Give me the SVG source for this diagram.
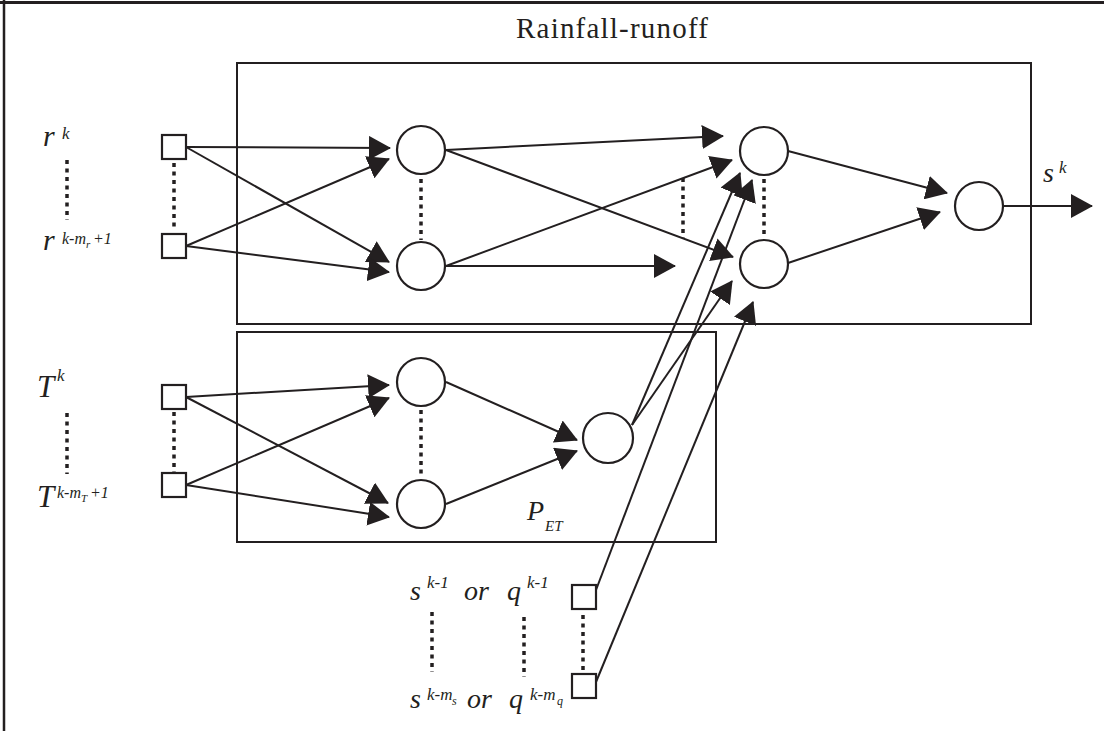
<svg xmlns="http://www.w3.org/2000/svg" width="1104" height="731" viewBox="0 0 1104 731">
<style>
.box{fill:none;stroke:#231f20;stroke-width:2}
.nd{fill:#fff;stroke:#231f20;stroke-width:2.2}
.ln{stroke:#231f20;stroke-width:2;fill:none;marker-end:url(#ah)}
.dot{stroke:#231f20;stroke-width:3.5;stroke-dasharray:4 4.5;fill:none}
.t{font-family:"Liberation Serif","Times New Roman",serif;fill:#231f20}
.m{font-family:"Liberation Serif","Times New Roman",serif;font-style:italic;fill:#231f20}
</style>
<defs>
<marker id="ah" markerUnits="userSpaceOnUse" viewBox="0 0 22 24" markerWidth="22" markerHeight="24" refX="21" refY="12" orient="auto">
<path d="M0,0 L22,12 L0,24 Z" fill="#231f20"/>
</marker>
</defs>
<rect width="1104" height="731" fill="#fff"/>
<g id="frame">
<line x1="0" y1="2.5" x2="1104" y2="2.5" stroke="#231f20" stroke-width="3"/>
<line x1="4" y1="0" x2="4" y2="731" stroke="#231f20" stroke-width="2.5"/>
</g>
<g id="rainfall-runoff-box">
<rect class="box" x="237" y="63" width="794" height="261"/>
<text class="t" x="612" y="38" font-size="29" text-anchor="middle" textLength="192">Rainfall-runoff</text>
</g>
<g id="pet-box">
<rect class="box" x="237" y="332" width="479" height="210"/>
<text class="m" x="527" y="520" font-size="28">P<tspan x="545" y="531" font-size="15">ET</tspan></text>
</g>
<g id="connectors">
<line class="ln" x1="186" y1="147" x2="390" y2="148"/>
<line class="ln" x1="186" y1="147" x2="389" y2="262"/>
<line class="ln" x1="186" y1="246" x2="389" y2="159"/>
<line class="ln" x1="186" y1="246" x2="389" y2="272"/>
<line class="ln" x1="186" y1="397" x2="389" y2="385"/>
<line class="ln" x1="186" y1="397" x2="388" y2="503"/>
<line class="ln" x1="186" y1="485" x2="389" y2="398"/>
<line class="ln" x1="186" y1="485" x2="389" y2="517"/>
<line class="ln" x1="446" y1="382" x2="577" y2="440"/>
<line class="ln" x1="446" y1="504" x2="577" y2="451"/>
<line class="ln" x1="446" y1="150" x2="723" y2="136"/>
<line class="ln" x1="446" y1="150" x2="733" y2="257"/>
<line class="ln" x1="446" y1="266" x2="732" y2="160"/>
<line class="ln" x1="446" y1="266" x2="675" y2="266"/>
<line class="ln" x1="632" y1="425" x2="740" y2="173"/>
<line class="ln" x1="632" y1="425" x2="732" y2="281"/>
<line class="ln" x1="596" y1="590" x2="752" y2="180"/>
<line class="ln" x1="596" y1="682" x2="753" y2="302"/>
<line class="ln" x1="788" y1="151" x2="947" y2="193"/>
<line class="ln" x1="788" y1="263" x2="940" y2="212"/>
<line class="ln" x1="1003" y1="206" x2="1092" y2="206"/>
</g>
<g id="dots">
<line class="dot" x1="67" y1="160" x2="67" y2="220"/>
<line class="dot" x1="174" y1="163" x2="174" y2="230"/>
<line class="dot" x1="421" y1="179" x2="421" y2="240"/>
<line class="dot" x1="683" y1="178" x2="683" y2="238"/>
<line class="dot" x1="764" y1="179" x2="764" y2="238"/>
<line class="dot" x1="67" y1="413" x2="67" y2="474"/>
<line class="dot" x1="174" y1="412" x2="174" y2="472"/>
<line class="dot" x1="421" y1="410" x2="421" y2="478"/>
<line class="dot" x1="432" y1="612" x2="432" y2="672"/>
<line class="dot" x1="524" y1="617" x2="524" y2="677"/>
<line class="dot" x1="583" y1="615" x2="583" y2="672"/>
</g>
<g id="input-r1"><rect class="nd" x="162" y="135" width="24" height="24"/></g>
<g id="input-r2"><rect class="nd" x="162" y="234" width="24" height="24"/></g>
<g id="input-T1"><rect class="nd" x="162" y="385" width="24" height="24"/></g>
<g id="input-T2"><rect class="nd" x="162" y="473" width="24" height="24"/></g>
<g id="input-s1"><rect class="nd" x="572" y="585" width="24" height="24"/></g>
<g id="input-s2"><rect class="nd" x="572" y="674" width="24" height="24"/></g>
<g id="hidden1-a"><circle class="nd" cx="421" cy="150" r="24"/></g>
<g id="hidden1-b"><circle class="nd" cx="421" cy="266" r="24"/></g>
<g id="pet-hidden-a"><circle class="nd" cx="421" cy="382" r="24"/></g>
<g id="pet-hidden-b"><circle class="nd" cx="421" cy="504" r="24"/></g>
<g id="pet-node"><circle class="nd" cx="608" cy="438" r="25"/></g>
<g id="hidden2-a"><circle class="nd" cx="764" cy="151" r="24"/></g>
<g id="hidden2-b"><circle class="nd" cx="764" cy="264" r="24"/></g>
<g id="output"><circle class="nd" cx="979" cy="206" r="24"/></g>
<g id="labels">
<text class="m" x="43" y="146" font-size="30">r<tspan x="62" y="139" font-size="17">k</tspan></text>
<text class="m" x="43" y="250" font-size="30">r<tspan x="62" y="244" font-size="16">k-m</tspan><tspan x="86" y="248" font-size="11">r</tspan><tspan x="93" y="244" font-size="16">+1</tspan></text>
<text class="m" x="37" y="397" font-size="31">T<tspan x="57" y="381" font-size="17">k</tspan></text>
<text class="m" x="37" y="507" font-size="31">T<tspan x="57" y="498" font-size="16">k-m</tspan><tspan x="81" y="502" font-size="11">T</tspan><tspan x="90" y="498" font-size="16">+1</tspan></text>
<text class="m" x="1043" y="182" font-size="28">s<tspan x="1059" y="173" font-size="17">k</tspan></text>
<text class="m" x="410" y="600" font-size="28">s<tspan x="427" y="588" font-size="17">k-1</tspan><tspan x="464" y="600" font-size="28">or</tspan><tspan x="507" y="600" font-size="28">q</tspan><tspan x="527" y="588" font-size="17">k-1</tspan></text>
<text class="m" x="410" y="708" font-size="28">s<tspan x="427" y="700" font-size="17">k-m</tspan><tspan x="452" y="705" font-size="12">s</tspan><tspan x="467" y="708" font-size="28">or</tspan><tspan x="509" y="708" font-size="28">q</tspan><tspan x="530" y="700" font-size="17">k-m</tspan><tspan x="557" y="705" font-size="12">q</tspan></text>
</g>
</svg>
